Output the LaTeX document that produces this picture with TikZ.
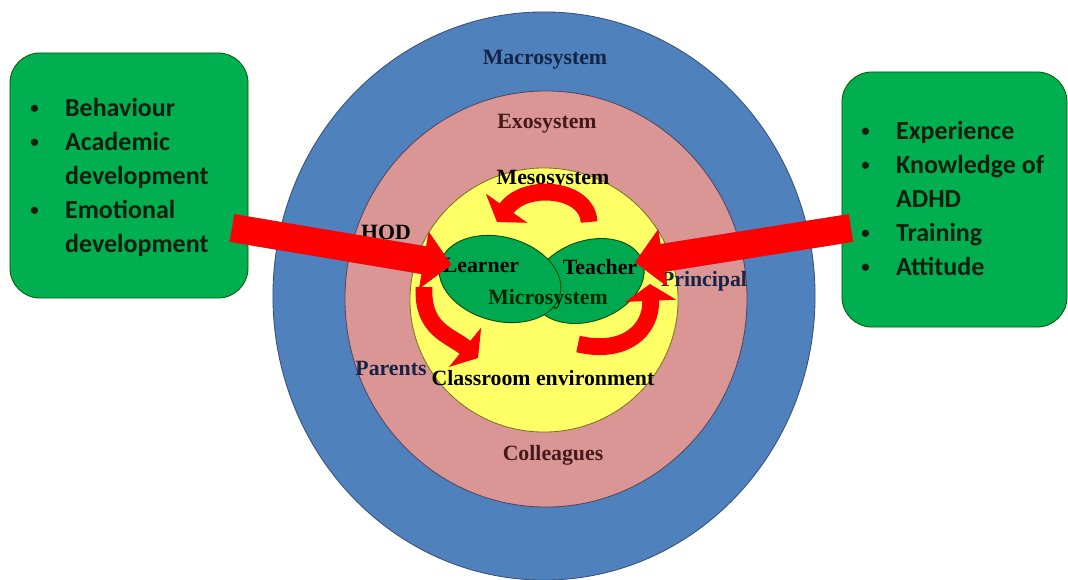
\documentclass[tikz,border=0pt]{standalone}
\usepackage{fontspec}
\setmainfont{Liberation Serif}
\newfontfamily\boxfont{Carlito}
\usetikzlibrary{shapes.geometric, arrows.meta}
\usetikzlibrary{positioning}

\definecolor{macroblue}{RGB}{79,129,189}
\definecolor{macroedge}{RGB}{56,80,120}
\definecolor{exopink}{RGB}{217,150,148}
\definecolor{exoedge}{RGB}{80,70,100}
\definecolor{mesoyellow}{RGB}{255,255,102}
\definecolor{mesoedge}{RGB}{130,110,40}
\definecolor{microgreen}{RGB}{0,168,80}
\definecolor{boxgreen}{RGB}{0,176,80}
\definecolor{arrowred}{RGB}{255,0,0}
\definecolor{arrowshade}{RGB}{95,105,165}
\definecolor{macrotext}{RGB}{20,35,70}
\definecolor{exotext}{RGB}{70,25,25}
\definecolor{listtext}{RGB}{15,30,15}

\tikzstyle{ring}       = [ellipse, draw=macroedge, line width=0.6pt, inner sep=0pt]
\tikzstyle{systext}    = [font=\bfseries\fontsize{15.5}{18}\selectfont, inner sep=0pt]
\tikzstyle{infobox}    = [draw=green!35!black, fill=boxgreen, line width=0.6pt, rounded corners=0.75cm]
\tikzstyle{listtext}   = [font=\boxfont\bfseries\fontsize{18.5}{24.2}\selectfont, text=listtext, inner sep=0pt, anchor=west]
\tikzstyle{bigarrow}   = [arrowred, line width=0.7cm, -{Triangle[length=0.7cm, width=1.4cm]}]
\tikzstyle{curvearrow} = [arrowred, line width=0.42cm, -{Triangle[length=0.42cm, width=1.25cm]}]

\newcommand{\dotitem}{\makebox[0.87cm][l]{\raisebox{0.12em}{\fontsize{12}{12}\selectfont\textbullet}}}

\begin{document}
\begin{tikzpicture}[x=0.025cm, y=-0.025cm]
      \fill[white] (0,0) rectangle (1068,580);
      \useasboundingbox (0,0) rectangle (1068,580);
      % Rings
      \node[ring, fill=macroblue, minimum width=13.55cm, minimum height=14.2cm] (macro) at (544,296) {};
      \node[ring, draw=exoedge, fill=exopink, minimum width=10.05cm, minimum height=10.4cm] (exo) at (546,299) {};
      \node[ring, draw=mesoedge, fill=mesoyellow, minimum width=6.7cm, minimum height=6.6cm] (meso) at (544,300) {};
      % Microsystem
      \node[ring, draw=green!30!black, fill=microgreen, minimum width=2.9cm, minimum height=2.0cm, rotate=20] 
        (teacher) at (588,281) {};
      \node[ring, draw=green!30!black, fill=microgreen, minimum width=3.1cm, minimum height=2.1cm, rotate=-15] 
        (learner) at (500,279) {};
      % Labels
      \node[systext, text=macrotext] (macrotitle) at (545,60) {Macrosystem};
      \node[systext, text=exotext] (exotitle) at (547,124) {Exosystem};
      \node[systext] (mesotitle) at (553,180) {Mesosystem};
      \node[systext] (hod) at (386,232) {HOD};
      \node[systext] (learnertext) at (481,265) {Learner};
      \node[systext] (teachertext) at (600,267) {Teacher};
      \node[systext, text=green!15!black] (microtitle) at (548,299) {Microsystem};
      \node[systext, text=macrotext] (principal) at (704,281) {Principal};
      \node[systext, text=macrotext] (parents) at (391,368) {Parents};
      \node[systext] (classroom) at (543,378) {Classroom environment};
      \node[systext, text=exotext] (colleagues) at (553,455) {Colleagues};
      % Side boxes
      \node[infobox, minimum width=5.95cm, minimum height=6.125cm] (effects) at (129,175.5) {};
      \node[listtext] (effectslist) at (30,178) {\begin{tabular}{@{}l@{}l@{}}
        \dotitem & Behaviour\\ \dotitem & Academic\\ & development\\ \dotitem & Emotional\\ & development
        \end{tabular}};
      \node[infobox, minimum width=5.625cm, minimum height=6.375cm] (factors) at (954.5,199.5) {};
      \node[listtext] (factorslist) at (861,201) {\begin{tabular}{@{}l@{}l@{}}
        \dotitem & Experience\\ \dotitem & Knowledge of\\ & ADHD\\ \dotitem & Training\\ \dotitem & Attitude
        \end{tabular}};
      % Big arrows
      \coordinate (efftail) at (232,228);
      \coordinate (factail) at (851,228);
      \draw[bigarrow, arrowshade, shorten >=-0.3cm, xshift=-2, yshift=-2] (efftail) -- (learner.west);
      \draw[bigarrow, shorten >=-0.3cm] (efftail) -- (learner.west);
      \draw[bigarrow, arrowshade, shorten >=-0.2cm, xshift=2, yshift=-2] (factail) -- (teacher.east);
      \draw[bigarrow, shorten >=-0.2cm] (factail) -- (teacher.east);
      % Curved arrows
      \coordinate (topA) at (589,222);
      \coordinate (topB) at (497,222);
      \coordinate (leftA) at (424,287);
      \coordinate (leftB) at (478,358);
      \coordinate (rightA) at (578,344);
      \coordinate (rightB) at (650,284);
      \draw[curvearrow] (topA) .. controls (588,188) and (525,182) .. (topB);
      \draw[curvearrow] (leftA) .. controls (422,330) and (450,335) .. (leftB);
      \draw[curvearrow] (rightA) .. controls (625,355) and (652,330) .. (rightB);
\end{tikzpicture}
\end{document}
